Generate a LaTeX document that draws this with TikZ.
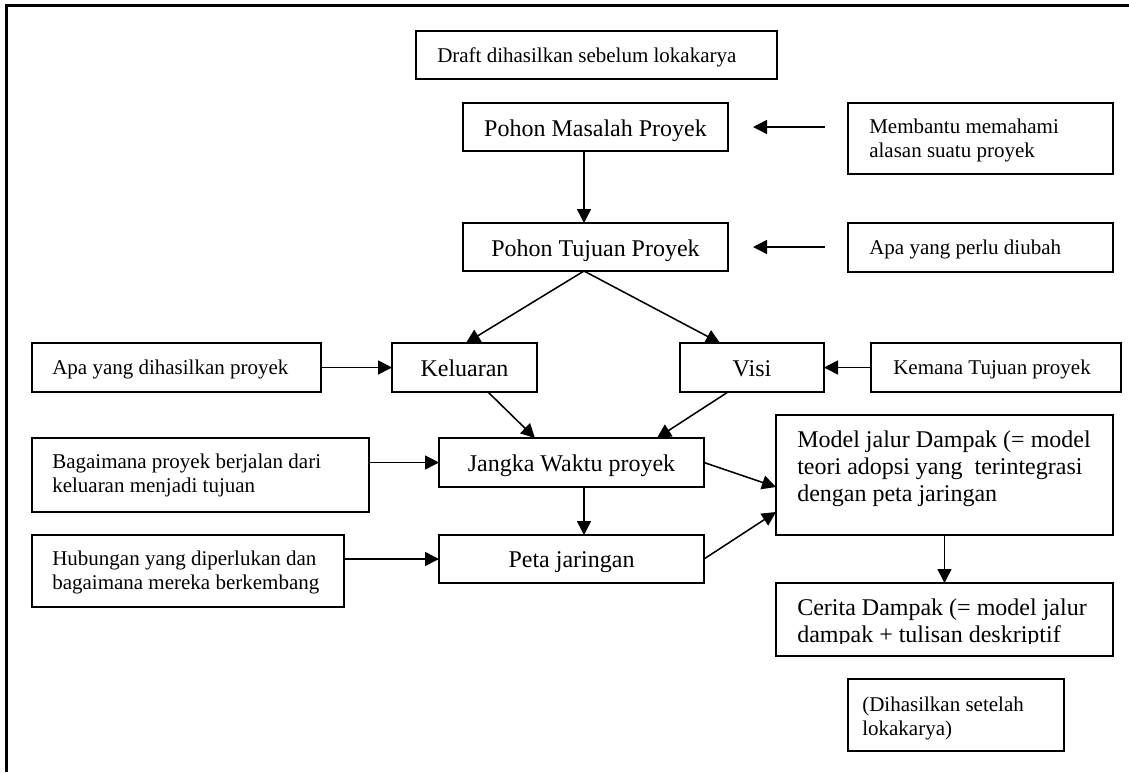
\documentclass[tikz,border=0pt]{standalone}
\usepackage{fontspec}
\setmainfont{Liberation Serif}
\usetikzlibrary{arrows.meta,calc}

% a box given by its name, top-left corner and size (all in px)
\newcommand{\bx}[5]{\node[box, minimum width=#4*0.75pt, minimum height=#5*0.75pt] (#1) at (#2,#3) {};}

\begin{document}
\begin{tikzpicture}[x=0.75pt,y=-0.75pt,
  box/.style={draw=black, line width=1.15pt, rectangle, inner sep=0pt, outer sep=0pt, anchor=north west},
  arr/.style={draw=black, line width=1.15pt, -{Triangle[length=10.5pt,width=10.5pt]}},
  small/.style={inner sep=0pt, anchor=base west, font=\fontsize{15.75}{18}\selectfont},
  big/.style={inner sep=0pt, anchor=base, font=\fontsize{18}{20.6}\selectfont},
  bigl/.style={inner sep=0pt, anchor=base west, font=\fontsize{18}{20.6}\selectfont},
]
\useasboundingbox (0,0) rectangle (1129,772);
\fill[white] (0,0) rectangle (1129,772);

% page frame (left and top edges only)
\draw[line width=2pt] (6.5,772) -- (6.5,5.5) -- (1129,5.5);

% boxes
\bx{draft}{416}{31}{361}{48}
\bx{masalah}{463}{103}{265}{48}
\bx{membantu}{848}{103}{265}{71}
\bx{tujuan}{463}{223}{265}{48}
\bx{perlu}{848}{223}{265}{49}
\bx{hasil}{32}{343}{289}{49}
\bx{keluaran}{392}{343}{145}{49}
\bx{visi}{680}{343}{144}{49}
\bx{kemana}{871}{343}{250}{49}
\bx{bagaimana}{32}{438}{337}{74}
\bx{jangka}{439}{438}{265}{49}
\bx{model}{776}{415}{337}{120}
\bx{hubungan}{32}{535}{312}{72}
\bx{peta}{439}{535}{265}{48}
\bx{cerita}{776}{583}{337}{73}
\bx{setelah}{848}{679}{216}{72}

% texts
\node[small] (draft-t) at ($(draft.north west)+(21,31)$) {Draft dihasilkan sebelum lokakarya};
\node[big] (masalah-t) at ($(masalah.north)+(0,33)$) {Pohon Masalah Proyek};
\node[small] (membantu-t) at ($(membantu.north west)+(21,30)$) {\vtop{\hbox{Membantu memahami}\hbox{alasan suatu proyek}}};
\node[big] (tujuan-t) at ($(tujuan.north)+(0,33)$) {Pohon Tujuan Proyek};
\node[small] (perlu-t) at ($(perlu.north west)+(21,31)$) {Apa yang perlu diubah};
\node[small] (hasil-t) at ($(hasil.north west)+(20,31)$) {Apa yang dihasilkan proyek};
\node[big] (keluaran-t) at ($(keluaran.north)+(0,33)$) {Keluaran};
\node[big] (visi-t) at ($(visi.north)+(0,33)$) {Visi};
\node[small] (kemana-t) at ($(kemana.north west)+(22,31)$) {Kemana Tujuan proyek};
\node[small] (bagaimana-t) at ($(bagaimana.north west)+(20,30)$) {\vtop{\hbox{Bagaimana proyek berjalan dari}\hbox{keluaran menjadi tujuan}}};
\node[big] (jangka-t) at ($(jangka.north)+(0,33)$) {Jangka Waktu proyek};
\node[bigl] (model-t) at ($(model.north west)+(21,32)$) {\vtop{\hbox{Model jalur Dampak (= model}\hbox{teori adopsi yang~ terintegrasi}\hbox{dengan peta jaringan}}};
\node[small] (hubungan-t) at ($(hubungan.north west)+(20,30)$) {\vtop{\hbox{Hubungan yang diperlukan dan}\hbox{bagaimana mereka berkembang}}};
\node[big] (peta-t) at ($(peta.north)+(0,32)$) {Peta jaringan};
\begin{scope}
  \clip (cerita.north west) rectangle ($(cerita.south east)+(0,-13)$);
  \node[bigl] (cerita-t) at ($(cerita.north west)+(21,32)$) {\vtop{\hbox{Cerita Dampak (= model jalur}\hbox{dampak + tulisan deskriptif}}};
\end{scope}
\node[small] (setelah-t) at ($(setelah.north west)+(14,32)$) {\vtop{\hbox{(Dihasilkan setelah}\hbox{lokakarya)}}};

% connectors
\draw[arr] ($(masalah.south)+(-11.5,0)$) -- ($(tujuan.north)+(-11.5,0)$);
\draw[arr] ($(membantu.west |- masalah.east)+(-23,0)$) -- ($(masalah.east)+(25,0)$);
\draw[arr] ($(perlu.west |- tujuan.east)+(-23,0)$) -- ($(tujuan.east)+(25,0)$);
\draw[arr] ($(tujuan.south)+(-11.5,0)$) -- ($(keluaran.north)+(1.5,0)$);
\draw[arr] ($(tujuan.south)+(-11.5,0)$) -- ($(visi.north)+(-32,0)$);
\draw[arr] (hasil.east) -- (keluaran.west);
\draw[arr] (kemana.west) -- (visi.east);
\draw[arr] ($(keluaran.south)+(23.5,0)$) -- ($(jangka.north)+(-36.5,0)$);
\draw[arr] ($(visi.south)+(-24,0)$) -- ($(jangka.north)+(85.5,0)$);
\draw[arr] (bagaimana.east |- jangka.west) -- (jangka.west);
\draw[arr] ($(jangka.south)+(12.5,0)$) -- ($(peta.north)+(12.5,0)$);
\draw[arr] (hubungan.east |- peta.west) -- (peta.west);
\draw[arr] (jangka.east) -- ($(model.west)+(0,12)$);
\draw[arr] (peta.east) -- ($(model.west)+(0,37)$);
\draw[arr] (model.south) -- (cerita.north);
\end{tikzpicture}
\end{document}
